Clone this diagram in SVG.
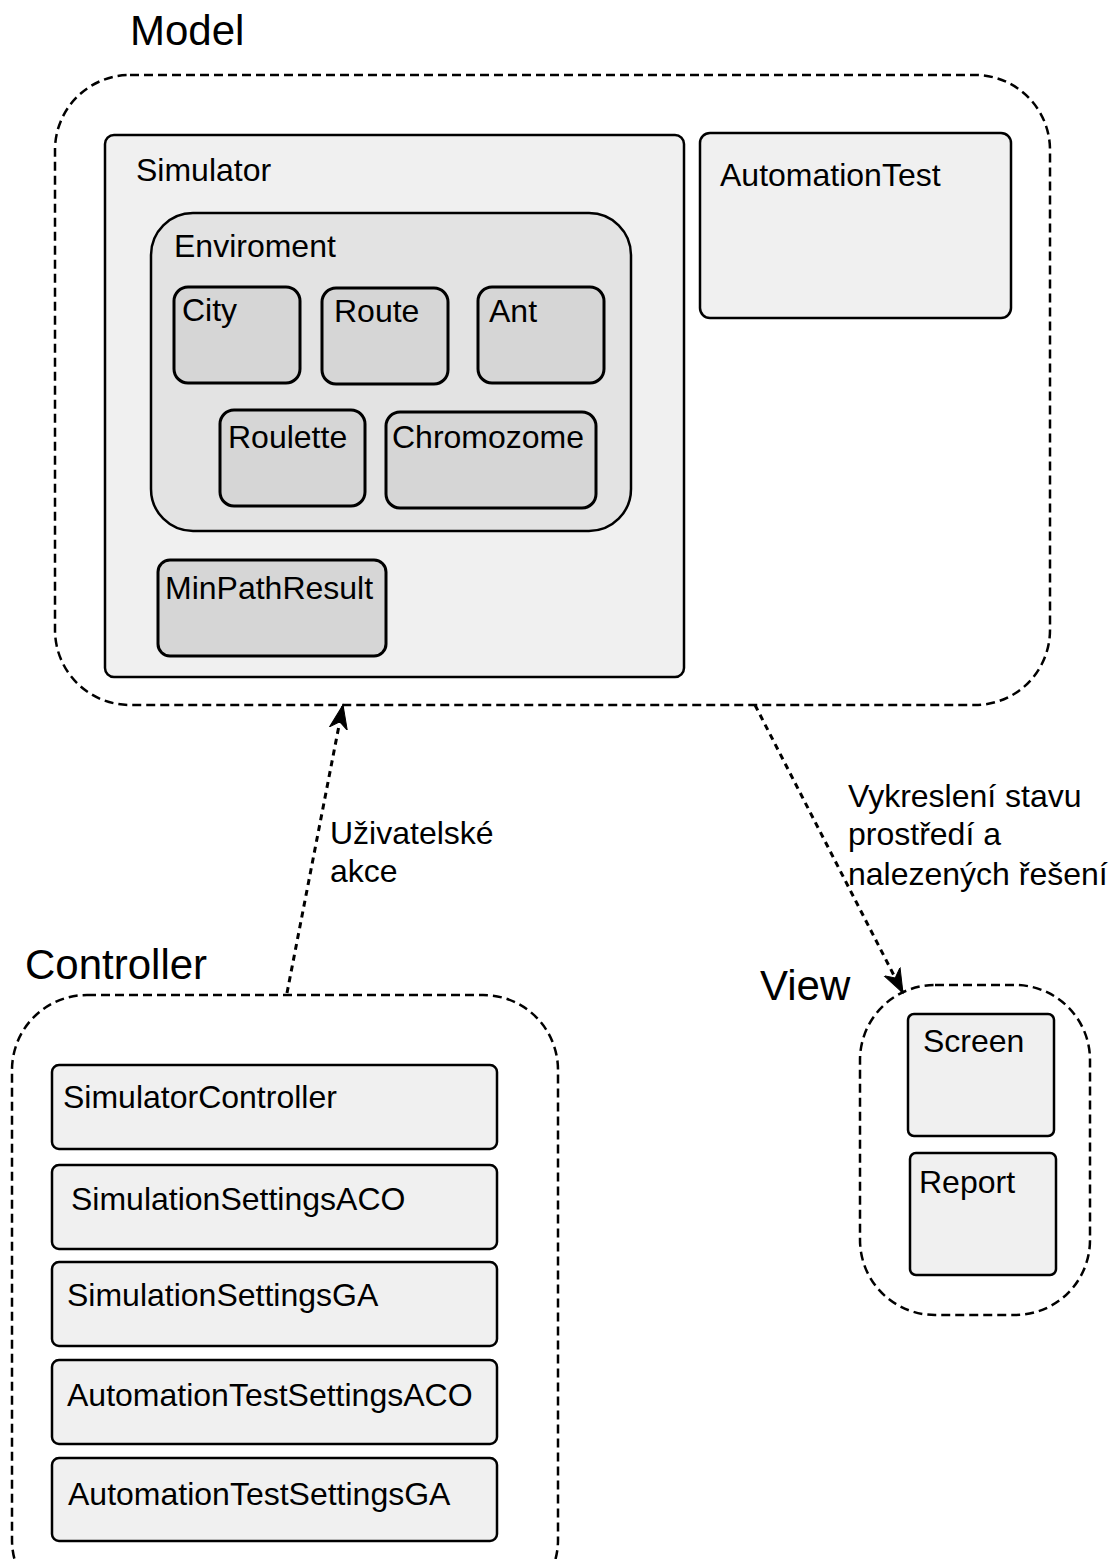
<svg xmlns="http://www.w3.org/2000/svg" width="1118" height="1559" viewBox="0 0 1118 1559">
  <style>
    text { font-family: "Liberation Sans", Arial, sans-serif; fill: #000; }
    .title { font-size: 42px; }
    .lbl { font-size: 32px; }
    .pkg { fill: none; stroke: #000; stroke-width: 2.5; stroke-dasharray: 9 5; }
    .box { fill: #f0f0f0; stroke: #000; stroke-width: 2.5; }
    .env { fill: #e3e3e3; stroke: #000; stroke-width: 2.5; }
    .inner { fill: #d6d6d6; stroke: #000; stroke-width: 3; }
    .dep { fill: none; stroke: #000; stroke-width: 3; stroke-dasharray: 6 5; }
  </style>
  <defs>
    <marker id="arrow" markerWidth="26" markerHeight="22" refX="24" refY="9" orient="auto" markerUnits="userSpaceOnUse" viewBox="0 0 26 18">
      <path d="M0,0 L24,9 L0,18 L7,9 Z" fill="#000" stroke="#000" stroke-width="1"/>
    </marker>
  </defs>
  <rect width="1118" height="1559" fill="#fff"/>

  <!-- Model package -->
  <g id="model">
    <text class="title" x="130" y="45">Model</text>
    <rect class="pkg" x="55" y="75" width="995" height="630" rx="75" ry="75"/>
  </g>
  <g id="simulator">
    <rect class="box" x="105" y="135" width="579" height="542" rx="9"/>
    <text class="lbl" x="136" y="181">Simulator</text>
  </g>
  <g id="enviroment">
    <rect class="env" x="151" y="213" width="480" height="318" rx="42"/>
    <text class="lbl" x="174" y="257">Enviroment</text>
  </g>
  <g id="city">
    <rect class="inner" x="174" y="287" width="126" height="96" rx="14"/>
    <text class="lbl" x="182" y="321">City</text>
  </g>
  <g id="route">
    <rect class="inner" x="322" y="288" width="126" height="96" rx="14"/>
    <text class="lbl" x="334" y="322">Route</text>
  </g>
  <g id="ant">
    <rect class="inner" x="478" y="287" width="126" height="96" rx="14"/>
    <text class="lbl" x="489" y="322">Ant</text>
  </g>
  <g id="roulette">
    <rect class="inner" x="220" y="410" width="145" height="96" rx="14"/>
    <text class="lbl" x="228" y="448">Roulette</text>
  </g>
  <g id="chromozome">
    <rect class="inner" x="386" y="412" width="210" height="96" rx="14"/>
    <text class="lbl" x="392" y="448">Chromozome</text>
  </g>
  <g id="minpathresult">
    <rect class="inner" x="158" y="560" width="228" height="96" rx="12"/>
    <text class="lbl" x="165" y="599">MinPathResult</text>
  </g>
  <g id="automationtest">
    <rect class="box" x="700" y="133" width="311" height="185" rx="10"/>
    <text class="lbl" x="720" y="186">AutomationTest</text>
  </g>

  <!-- Controller package -->
  <g id="controller">
    <text class="title" x="25" y="979">Controller</text>
    <rect class="pkg" x="12" y="995" width="546" height="620" rx="75" ry="75"/>
  </g>
  <g id="simulatorcontroller">
    <rect class="box" x="52" y="1065" width="445" height="84" rx="7"/>
    <text class="lbl" x="63" y="1108">SimulatorController</text>
  </g>
  <g id="simulationsettingsaco">
    <rect class="box" x="52" y="1165" width="445" height="84" rx="7"/>
    <text class="lbl" x="71" y="1210">SimulationSettingsACO</text>
  </g>
  <g id="simulationsettingsga">
    <rect class="box" x="52" y="1262" width="445" height="84" rx="7"/>
    <text class="lbl" x="67" y="1306">SimulationSettingsGA</text>
  </g>
  <g id="automationtestsettingsaco">
    <rect class="box" x="52" y="1360" width="445" height="84" rx="7"/>
    <text class="lbl" x="67" y="1406">AutomationTestSettingsACO</text>
  </g>
  <g id="automationtestsettingsga">
    <rect class="box" x="52" y="1458" width="445" height="83" rx="7"/>
    <text class="lbl" x="68" y="1505">AutomationTestSettingsGA</text>
  </g>

  <!-- View package -->
  <g id="view">
    <text class="title" x="760" y="1000">View</text>
    <rect class="pkg" x="860" y="985" width="230" height="330" rx="75" ry="75"/>
  </g>
  <g id="screen">
    <rect class="box" x="908" y="1014" width="146" height="122" rx="6"/>
    <text class="lbl" x="923" y="1052">Screen</text>
  </g>
  <g id="report">
    <rect class="box" x="910" y="1153" width="146" height="122" rx="6"/>
    <text class="lbl" x="919" y="1193">Report</text>
  </g>

  <!-- Dependencies -->
  <g id="connectors">
    <line class="dep" x1="287" y1="993" x2="343" y2="705" marker-end="url(#arrow)"/>
    <text class="lbl" x="330" y="844">Uživatelské</text>
    <text class="lbl" x="330" y="882">akce</text>
    <line class="dep" x1="755" y1="705" x2="903" y2="993" marker-end="url(#arrow)"/>
    <text class="lbl" x="848" y="807">Vykreslení stavu</text>
    <text class="lbl" x="848" y="845">prostředí a</text>
    <text class="lbl" x="848" y="885">nalezených řešení</text>
  </g>
</svg>
